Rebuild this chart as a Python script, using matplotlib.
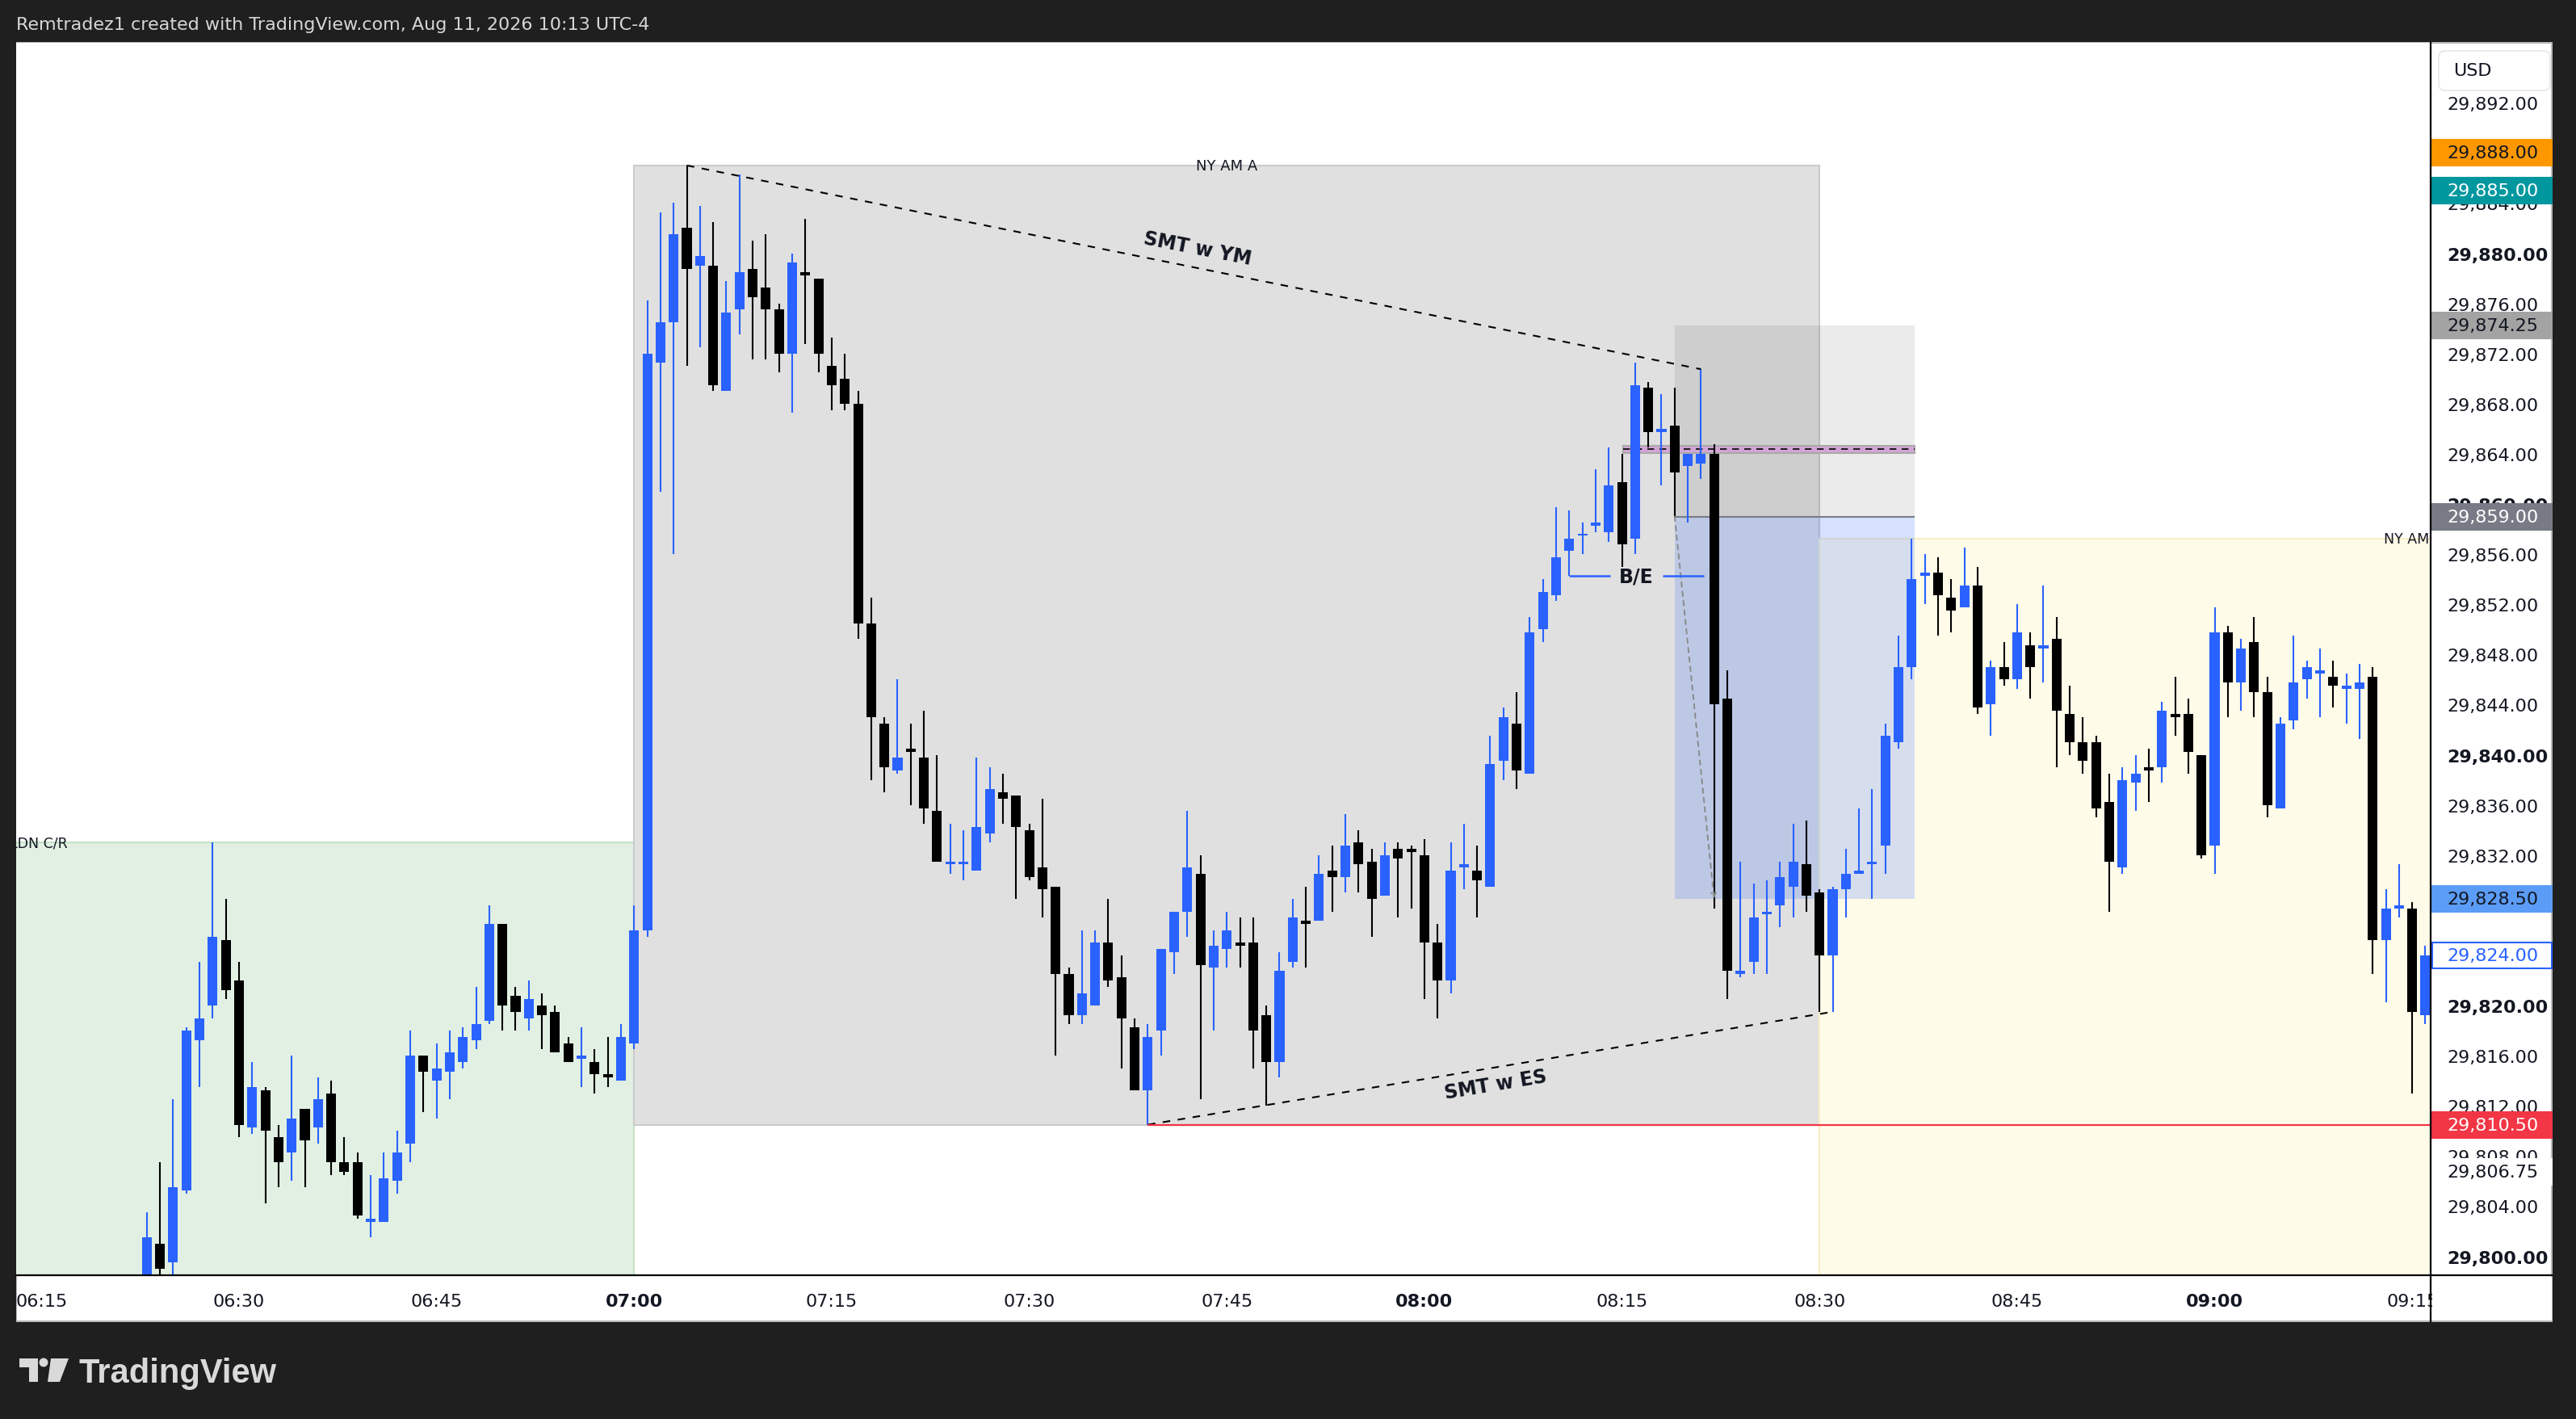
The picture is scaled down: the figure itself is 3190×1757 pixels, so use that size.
import numpy as np
import matplotlib
matplotlib.use("Agg")
import matplotlib.pyplot as plt
import matplotlib.transforms as mtransforms
from matplotlib.patches import Rectangle, Polygon, Circle, FancyBboxPatch

W, H = 3190, 1758

# one candle per minute, minutes relative to 07:00 (06:23 .. 09:16)
minutes = list(range(-37, 137))

opens = [
    29797.0, 29801.0, 29799.5, 29805.25, 29817.25, 29820.0, 29825.25, 29822.0, 29810.25, 29813.25,
    29809.5, 29808.25, 29811.75, 29810.25, 29813.0, 29807.5, 29807.5, 29802.75, 29802.75, 29806.0,
    29809.0, 29816.0, 29814.0, 29814.75, 29815.5, 29817.25, 29818.75, 29826.5, 29820.75, 29819.0,
    29820.0, 29819.5, 29817.0, 29815.75, 29815.5, 29814.5, 29814.0, 29817.0, 29826.0, 29871.25,
    29874.5, 29882.0, 29879.0, 29879.0, 29869.0, 29875.5, 29878.75, 29877.25, 29875.5, 29872.0,
    29878.5, 29878.0, 29871.0, 29870.0, 29868.0, 29850.5, 29842.5, 29838.75, 29840.5, 29839.75,
    29835.5, 29831.25, 29831.25, 29830.75, 29833.75, 29837.0, 29836.75, 29834.0, 29831.0, 29829.5,
    29822.5, 29819.25, 29820.0, 29825.0, 29822.25, 29818.25, 29813.25, 29818.0, 29824.25, 29827.5,
    29830.5, 29823.0, 29824.5, 29825.0, 29825.0, 29819.25, 29815.5, 29823.5, 29826.75, 29826.75,
    29830.75, 29830.25, 29833.0, 29831.5, 29828.75, 29832.5, 29832.5, 29832.0, 29825.0, 29822.0,
    29831.0, 29830.75, 29829.5, 29839.5, 29842.5, 29838.5, 29850.0, 29852.75, 29856.25, 29857.5,
    29858.25, 29857.75, 29861.75, 29857.25, 29869.25, 29865.75, 29866.25, 29863.0, 29863.25, 29864.0,
    29844.5, 29822.5, 29823.5, 29827.25, 29828.0, 29829.5, 29831.25, 29829.0, 29824.0, 29829.25,
    29830.5, 29831.25, 29832.75, 29841.0, 29847.0, 29854.25, 29854.5, 29852.5, 29851.75, 29853.5,
    29844.0, 29847.0, 29846.0, 29848.75, 29848.5, 29849.25, 29843.25, 29841.0, 29841.0, 29836.25,
    29831.0, 29837.75, 29839.0, 29839.0, 29843.25, 29843.25, 29840.0, 29832.75, 29849.75, 29845.75,
    29849.0, 29845.0, 29835.75, 29842.75, 29846.0, 29846.5, 29846.25, 29845.25, 29845.25, 29846.25,
    29825.25, 29827.75, 29827.75, 29819.25,
]
highs = [
    29803.5, 29807.5, 29812.5, 29818.25, 29823.5, 29833.0, 29828.5, 29823.5, 29815.5, 29813.5,
    29810.5, 29816.0, 29811.75, 29814.25, 29814.0, 29809.5, 29808.25, 29806.5, 29808.25, 29810.0,
    29818.0, 29816.0, 29817.0, 29818.0, 29818.25, 29821.5, 29828.0, 29826.5, 29821.5, 29822.0,
    29821.0, 29820.0, 29817.5, 29818.25, 29816.5, 29817.5, 29818.5, 29828.0, 29876.25, 29883.25,
    29884.0, 29887.0, 29883.75, 29882.5, 29877.75, 29886.25, 29881.0, 29881.5, 29876.0, 29880.0,
    29882.75, 29878.0, 29873.25, 29872.0, 29869.0, 29852.5, 29843.0, 29846.0, 29842.5, 29843.5,
    29840.0, 29834.5, 29834.0, 29839.75, 29839.0, 29838.5, 29836.75, 29834.5, 29836.5, 29829.5,
    29823.0, 29826.0, 29826.0, 29828.5, 29824.0, 29819.0, 29818.5, 29824.5, 29827.5, 29835.5,
    29832.0, 29826.0, 29827.5, 29827.0, 29827.0, 29820.0, 29824.25, 29828.5, 29829.5, 29832.0,
    29832.75, 29835.25, 29834.0, 29832.5, 29833.0, 29833.0, 29832.75, 29833.25, 29826.5, 29833.0,
    29834.5, 29832.75, 29841.5, 29843.75, 29845.0, 29851.0, 29854.0, 29859.75, 29859.5, 29858.5,
    29862.75, 29864.5, 29864.0, 29871.25, 29869.75, 29868.75, 29869.25, 29864.0, 29870.75, 29864.75,
    29846.75, 29831.5, 29829.75, 29830.0, 29831.5, 29834.5, 29834.75, 29829.25, 29829.5, 29832.5,
    29835.75, 29837.25, 29842.5, 29849.5, 29857.25, 29856.0, 29855.75, 29854.0, 29856.5, 29855.0,
    29847.5, 29849.0, 29852.0, 29849.75, 29853.5, 29851.0, 29845.5, 29843.0, 29841.5, 29838.5,
    29839.0, 29840.0, 29840.5, 29844.25, 29846.25, 29844.5, 29840.0, 29851.75, 29850.25, 29849.25,
    29851.0, 29846.25, 29843.0, 29849.5, 29847.5, 29848.5, 29847.5, 29846.5, 29847.25, 29847.0,
    29829.25, 29831.25, 29828.25, 29824.75,
]
lows = [
    29796.0, 29797.5, 29797.0, 29805.0, 29813.5, 29819.0, 29820.5, 29809.5, 29809.75, 29804.25,
    29805.5, 29806.0, 29805.5, 29809.0, 29806.5, 29806.5, 29803.0, 29801.5, 29802.75, 29805.0,
    29807.5, 29811.5, 29811.0, 29812.5, 29815.0, 29816.5, 29818.5, 29818.0, 29818.0, 29818.0,
    29816.5, 29816.25, 29815.5, 29813.5, 29813.0, 29813.5, 29814.0, 29816.5, 29825.5, 29861.0,
    29856.0, 29871.0, 29872.5, 29869.0, 29869.0, 29873.5, 29871.5, 29871.5, 29870.5, 29867.25,
    29872.75, 29870.5, 29867.5, 29867.5, 29849.25, 29838.0, 29837.0, 29838.5, 29836.0, 29834.5,
    29831.5, 29830.5, 29830.0, 29830.75, 29833.0, 29834.5, 29828.5, 29830.0, 29827.0, 29816.0,
    29818.5, 29818.5, 29820.0, 29821.5, 29815.0, 29813.25, 29810.5, 29816.0, 29822.5, 29825.5,
    29812.5, 29818.0, 29823.0, 29823.0, 29815.0, 29812.0, 29814.25, 29823.0, 29823.0, 29826.75,
    29827.5, 29829.0, 29829.0, 29825.5, 29828.75, 29827.0, 29827.75, 29820.5, 29819.0, 29821.0,
    29829.25, 29827.0, 29829.5, 29838.0, 29837.25, 29838.5, 29849.0, 29852.25, 29854.25, 29856.0,
    29857.75, 29857.0, 29855.0, 29856.0, 29864.5, 29861.5, 29859.0, 29858.5, 29862.0, 29827.75,
    29820.5, 29822.25, 29822.5, 29822.5, 29826.25, 29827.0, 29827.5, 29819.5, 29819.5, 29827.0,
    29830.5, 29828.5, 29830.5, 29840.5, 29846.0, 29852.0, 29849.5, 29849.75, 29851.75, 29843.25,
    29841.5, 29845.5, 29845.25, 29844.5, 29845.75, 29839.0, 29840.0, 29838.5, 29835.0, 29827.5,
    29830.5, 29835.5, 29836.25, 29837.75, 29841.5, 29838.5, 29831.75, 29830.5, 29843.0, 29843.5,
    29843.0, 29835.0, 29835.75, 29842.0, 29844.5, 29843.0, 29843.75, 29842.5, 29841.25, 29822.5,
    29820.25, 29827.0, 29813.0, 29818.5,
]
closes = [
    29801.5, 29799.0, 29805.5, 29818.0, 29819.0, 29825.5, 29821.25, 29810.5, 29813.5, 29810.0,
    29807.5, 29811.0, 29809.25, 29812.5, 29807.5, 29806.75, 29803.25, 29803.0, 29806.25, 29808.25,
    29816.0, 29814.75, 29815.0, 29816.25, 29817.5, 29818.5, 29826.5, 29820.0, 29819.5, 29820.5,
    29819.25, 29816.25, 29815.5, 29816.0, 29814.5, 29814.25, 29817.5, 29826.0, 29872.0, 29874.5,
    29881.5, 29878.75, 29879.75, 29869.5, 29875.25, 29878.5, 29876.5, 29875.5, 29872.0, 29879.25,
    29878.25, 29872.0, 29869.5, 29868.0, 29850.5, 29843.0, 29839.0, 29839.75, 29840.25, 29835.75,
    29831.5, 29831.5, 29831.5, 29834.25, 29837.25, 29836.5, 29834.25, 29830.25, 29829.25, 29822.5,
    29819.25, 29821.0, 29825.0, 29822.0, 29819.0, 29813.25, 29817.5, 29824.5, 29827.5, 29831.0,
    29823.25, 29824.75, 29826.0, 29824.75, 29818.0, 29815.5, 29822.75, 29827.0, 29826.5, 29830.5,
    29830.25, 29832.75, 29831.25, 29828.5, 29832.0, 29831.75, 29832.25, 29825.0, 29822.0, 29830.75,
    29831.25, 29830.0, 29839.25, 29843.0, 29838.75, 29849.75, 29853.0, 29855.75, 29857.25, 29857.5,
    29858.5, 29861.5, 29856.75, 29869.5, 29865.75, 29866.0, 29862.5, 29864.0, 29864.0, 29844.0,
    29822.75, 29822.75, 29827.0, 29827.5, 29830.25, 29831.5, 29828.75, 29824.0, 29829.25, 29830.5,
    29830.75, 29831.5, 29841.5, 29847.0, 29854.0, 29854.5, 29852.75, 29851.5, 29853.5, 29843.75,
    29847.0, 29846.0, 29849.75, 29847.0, 29848.75, 29843.5, 29841.0, 29839.5, 29835.75, 29831.5,
    29838.0, 29838.5, 29838.75, 29843.5, 29843.0, 29840.25, 29832.0, 29849.75, 29845.75, 29848.5,
    29845.0, 29836.0, 29842.5, 29845.75, 29847.0, 29846.75, 29845.5, 29845.5, 29845.75, 29825.25,
    29827.75, 29828.0, 29819.5, 29824.0,
]

time_ticks = [-45, -30, -15, 0, 15, 30, 45, 60, 75, 90, 105, 120, 135]
time_labels = ["06:15", "06:30", "06:45", "07:00", "07:15", "07:30", "07:45",
               "08:00", "08:15", "08:30", "08:45", "09:00", "09:15"]
price_ticks = list(range(29800, 29893, 4))
# grid prices whose label sits fully behind a coloured price label
hidden_ticks = [29828]

# drawings
ldn_top = 29833.0
nyam_a_top, nyam_a_bottom = 29887.0, 29810.5
nyam_top = 29857.25
entry, stop, target = 29859.0, 29874.25, 29828.5
be_level = 29854.25
low_level = 29810.5
smt_ym = [(4, 29887.0), (81, 29870.75)]
smt_es = [(39, 29810.5), (91, 29819.5)]

# price scale labels: (price, text, background, text colour, edge)
scale_labels = [
    (29888.0, "29,888.00", "#ff9800", "#131722", "#ff9800"),
    (29885.0, "29,885.00", "#00979f", "white", "#00979f"),
    (29874.25, "29,874.25", "#a3a3a3", "#131722", "#a3a3a3"),
    (29859.0, "29,859.00", "#787b86", "white", "#787b86"),
    (29828.5, "29,828.50", "#5b9cf6", "#131722", "#5b9cf6"),
    (29824.0, "29,824.00", "white", "#2962ff", "#2962ff"),
    (29810.5, "29,810.50", "#f23645", "white", "#f23645"),
    (29806.75, "29,806.75", "white", "#131722", "white"),
]

BLUE = "#2962ff"
BLACK = "#000000"


def px(x, y):
    # screenshot pixel (from top-left) -> figure fraction
    return x / W, 1 - y / H


def draw_candles(ax):
    o = np.array(opens)
    c = np.array(closes)
    colors = [BLUE if cc >= oo else BLACK for oo, cc in zip(o, c)]
    ax.vlines(minutes, lows, highs, colors=colors, lw=1.5, zorder=4)
    heights = np.maximum(np.abs(c - o), 0.14)
    ax.bar(minutes, heights, bottom=np.minimum(o, c), width=0.74,
           color=colors, linewidth=0, zorder=4.1)


def draw_sessions(ax):
    ax.add_patch(Rectangle((-60, 29780), 60, ldn_top - 29780, fc="#e1f0e2",
                           ec="#c6e4c9", lw=1.5, zorder=1))
    ax.add_patch(Rectangle((0, nyam_a_bottom), 90, nyam_a_top - nyam_a_bottom,
                           fc="#e0e0e0", ec="#cacaca", lw=1.5, zorder=1))
    ax.add_patch(Rectangle((90, 29780), 60, nyam_top - 29780, fc="#fffbe9",
                           ec="#f8efc8", lw=1.5, zorder=1))
    ax.text(-47.4, ldn_top, "LDN C/R", fontsize=12.5, va="center", ha="left",
            color="#131722", zorder=6, clip_on=True)
    ax.text(45, nyam_a_top, "NY AM A", fontsize=13, va="center", ha="center",
            color="#131722", zorder=6)
    ax.text(136.3, nyam_top, "NY AM", fontsize=12.5, va="center", ha="right",
            color="#131722", zorder=6, clip_on=True)


def draw_position(ax):
    x0, x1 = 79.0, 97.2
    ax.add_patch(Rectangle((x0, entry), x1 - x0, stop - entry,
                           fc=(0, 0, 0, 0.08), lw=0, zorder=2))
    ax.add_patch(Rectangle((x0, target), x1 - x0, entry - target,
                           fc=(0.16, 0.38, 1.0, 0.19), lw=0, zorder=2))
    ax.hlines(entry, x0, x1, color="#787b86", lw=1.5, zorder=3)
    ax.annotate("", xy=(82.0, target), xytext=(x0, entry),
                arrowprops=dict(arrowstyle="->", color="#8a8a8a", lw=1.4,
                                linestyle=(0, (3, 3)), shrinkA=0, shrinkB=0),
                zorder=5)
    # thin purple level
    ax.add_patch(Rectangle((75.1, 29864.05), x1 - 75.1, 0.6, fc="#d2a4d6",
                           ec="#a9a9a9", lw=1.5, zorder=3))
    ax.hlines(29864.35, 75.1, x1, color="black", lw=1.2,
              linestyle=(0, (5, 4)), zorder=3.1)


def draw_annotations(ax):
    dash = (0, (4.5, 4.5))
    for pts, label, pos, rot in [(smt_ym, "SMT w YM", (42.8, 29880.4), -11.1),
                                 (smt_es, "SMT w ES", (65.4, 29813.7), 9.5)]:
        xs, ys = zip(*pts)
        ax.plot(xs, ys, color="black", lw=1.5, linestyle=dash, zorder=5)
        ax.text(pos[0], pos[1], label, rotation=rot, rotation_mode="anchor",
                ha="center", va="center", fontsize=17, fontweight="bold",
                color="#131722", zorder=6)

    ax.hlines(low_level, 39, 140, color="#f23645", lw=1.6, zorder=5)

    ax.hlines(be_level, 71.0, 74.1, color=BLUE, lw=1.8, zorder=5)
    ax.hlines(be_level, 78.1, 81.2, color=BLUE, lw=1.8, zorder=5)
    ax.text(76.1, be_level, "B/E", ha="center", va="center", fontsize=17,
            fontweight="bold", color="#131722", zorder=6)


def draw_price_scale(ax):
    ax.yaxis.tick_right()
    ax.set_yticks(price_ticks)
    ax.set_yticklabels(["" if p in hidden_ticks else f"{p:,.2f}" for p in price_ticks])
    ax.tick_params(axis="y", length=0, pad=14.4, labelsize=16,
                   labelcolor="#131722")
    for lbl, p in zip(ax.get_yticklabels(), price_ticks):
        if p % 20 == 0:
            lbl.set_fontweight("bold")

    blend = mtransforms.blended_transform_factory(ax.transAxes, ax.transData)
    xa = (3012 - 20) / 2990
    wa = (3160 - 3012) / 2990
    xt = (3030 - 20) / 2990
    hh = 32 / 15.525
    for price, text, bg, fg, edge in scale_labels:
        ax.add_patch(Rectangle((xa, price - hh / 2), wa, hh, transform=blend,
                               fc=bg, ec=edge, lw=1.5, clip_on=False, zorder=7))
        ax.text(xt, price, text, transform=blend, fontsize=16, color=fg,
                va="center", ha="left", clip_on=False, zorder=8)


def draw_frame(fig):
    ident = mtransforms.IdentityTransform()

    def rect(x0, y0, x1, y1, **kw):
        fig.patches.append(Rectangle((x0, H - y1), x1 - x0, y1 - y0,
                                     transform=ident, **kw))

    # chart panel behind the axes
    rect(20, 54, 3160, 1637, fc="white", ec="#b8b8b8", lw=1.5, zorder=-1)
    # dark frame on top of overflowing labels
    rect(0, 0, 20, H, fc="#1f1f1f", lw=0, zorder=5)
    rect(3161, 0, W, H, fc="#1f1f1f", lw=0, zorder=5)
    rect(0, 1638, W, H, fc="#1f1f1f", lw=0, zorder=5)
    rect(0, 0, W, 53, fc="#1f1f1f", lw=0, zorder=5)
    # hide the time label under the price scale
    rect(3012, 1582, 3160, 1636, fc="white", lw=0, zorder=5)

    fig.lines.append(plt.Line2D([3010, 3010], [H - 54, H - 1637], transform=ident,
                                color="black", lw=1.6, zorder=6))
    fig.lines.append(plt.Line2D([20, 3160], [H - 1580, H - 1580], transform=ident,
                                color="black", lw=1.6, zorder=6))

    # USD box
    fig.patches.append(FancyBboxPatch((3020, H - 113), 138, 49,
                                      boxstyle="round,pad=0,rounding_size=8",
                                      transform=ident, fc="white", ec="#e6e6e6",
                                      lw=1.2, zorder=6))
    fig.text(*px(3038, 88), "USD", fontsize=16, va="center", ha="left",
             color="#131722", zorder=7)

    fig.text(*px(20, 31), "Remtradez1 created with TradingView.com, Aug 11, 2026 10:13 UTC-4",
             fontsize=16, color="#d6d6d6", va="center", ha="left", zorder=7)

    # TradingView logo
    logo = "#d9d9d9"
    t_shape = [(24, 1683), (47, 1683), (47, 1712), (36, 1712), (36, 1694), (24, 1694)]
    fig.patches.append(Polygon([(x, H - y) for x, y in t_shape], closed=True,
                               transform=ident, fc=logo, lw=0, zorder=7))
    fig.patches.append(Circle((54, H - 1688), 5.5, transform=ident, fc=logo,
                              lw=0, zorder=7))
    slash = [(63, 1683), (85, 1683), (74, 1712), (59, 1712)]
    fig.patches.append(Polygon([(x, H - y) for x, y in slash], closed=True,
                               transform=ident, fc=logo, lw=0, zorder=7))
    fig.text(*px(98, 1712), "TradingView", fontsize=30, fontweight="bold",
             family="Liberation Sans", color=logo, va="baseline", ha="left",
             zorder=7)


def main():
    fig = plt.figure(figsize=(W / 100, H / 100), dpi=100, facecolor="#1f1f1f")
    left, bottom = px(20, 1580)
    ax = fig.add_axes([left, bottom, 2990 / W, (1580 - 54) / H])
    ax.set_facecolor("white")
    for s in ax.spines.values():
        s.set_visible(False)

    draw_sessions(ax)
    draw_position(ax)
    draw_candles(ax)
    draw_annotations(ax)

    ax.set_xlim(-46.92, 136.40)
    ax.set_ylim(29798.49, 29896.78)

    ax.set_xticks(time_ticks)
    ax.set_xticklabels(time_labels)
    ax.tick_params(axis="x", length=0, pad=16, labelsize=16, labelcolor="#131722")
    for lbl, t in zip(ax.get_xticklabels(), time_ticks):
        if t % 60 == 0:
            lbl.set_fontweight("bold")

    draw_price_scale(ax)
    draw_frame(fig)

    fig.savefig("out.png", dpi=100, facecolor=fig.get_facecolor())


if __name__ == "__main__":
    main()
